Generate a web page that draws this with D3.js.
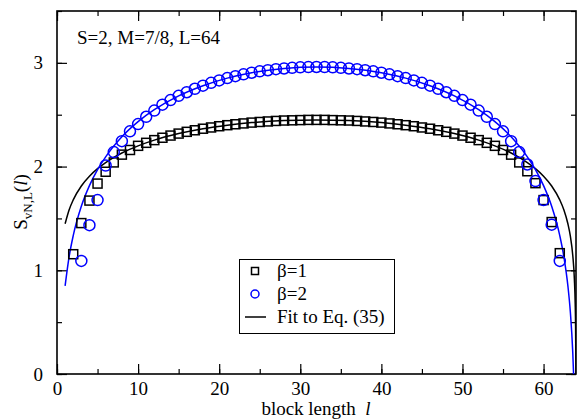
<!DOCTYPE html>
<html><head><meta charset="utf-8">
<script src="https://cdn.jsdelivr.net/npm/d3@7"></script>
<style>body{margin:0;background:#fff}svg{display:block}
svg text{font-family:"Liberation Serif";}
</style>
</head><body>
<svg id="chart" width="577" height="420"></svg>
<script>
const xTicks = [0,10,20,30,40,50,60];
const yTicks = [0,1,2,3];
const annotation = "S=2, M=7/8, L=64";
const legendLabels = ["\u03b2=1","\u03b2=2","Fit to Eq. (35)"];

const sqL = d3.range(2,63);
const sqV = [1.155,1.455,1.672,1.836,1.950,2.040,2.115,2.160,2.200,2.229,2.255,2.278,2.299,2.318,2.335,2.350,2.365,2.377,2.389,2.399,2.408,2.416,2.424,2.430,2.435,2.440,2.444,2.446,2.448,2.450,2.450,
 2.450,2.448,2.446,2.444,2.440,2.435,2.430,2.424,2.416,2.408,2.399,2.389,2.377,2.365,2.350,2.335,2.318,2.299,2.278,2.255,2.229,2.200,2.160,2.115,2.040,1.955,1.840,1.677,1.465,1.165];

const ciL = d3.range(3,63);
const ciV = [1.090,1.435,1.677,2.010,2.140,2.245,2.340,2.410,2.480,2.540,2.597,2.641,2.682,2.717,2.750,2.780,2.807,2.831,2.853,2.872,2.889,2.905,2.918,2.929,2.939,2.946,2.952,2.957,2.959,2.960,
 2.959,2.957,2.952,2.946,2.939,2.929,2.918,2.905,2.889,2.872,2.853,2.831,2.807,2.780,2.750,2.717,2.682,2.641,2.597,2.540,2.480,2.410,2.340,2.245,2.140,2.020,1.860,1.677,1.440,1.090];

const fitBlackL = [1,1.5,2,3,4,5,6,8,10,12,15,18,21,24,28,32,36,40,43,46,49,52,54,56,58,59,60,61,62,62.5,63,63.3,63.6,63.8,63.9,63.95,63.98,64];
const fitBlackV = [1.449,1.584,1.679,1.813,1.907,1.980,2.039,2.131,2.200,2.255,2.318,2.365,2.399,2.424,2.444,2.450,2.444,2.424,2.399,2.365,2.318,2.255,2.200,2.131,2.039,1.980,1.907,1.813,1.679,1.584,1.449,1.331,1.145,0.915,0.685,0.455,0.15,0];
const fitBlueL = [1,1.5,2,3,4,5,6,8,10,12,15,18,21,24,28,32,36,40,43,46,49,52,54,56,58,59,60,61,62,62.5,63,63.3,63.6,63.7];
const fitBlueV = [0.850,1.133,1.334,1.617,1.816,1.970,2.094,2.288,2.434,2.549,2.682,2.780,2.853,2.905,2.946,2.960,2.946,2.905,2.853,2.780,2.682,2.549,2.434,2.288,2.094,1.970,1.816,1.617,1.334,1.133,0.850,0.600,0.209,0];

const svg = d3.select("#chart");
const L = 57, R = 576, T = 11, B = 374;
const x = d3.scaleLinear().domain([0,64]).range([L,R]);
const y = d3.scaleLinear().domain([0,3.5]).range([B,T]);
const blue = "#0000ff";

svg.append("defs").append("clipPath").attr("id","clip").append("rect")
  .attr("x",L).attr("y",T).attr("width",R-L).attr("height",B-T);

const fs = 19;
function styleAxis(g){ g.attr("font-family",null); g.select(".domain").remove(); g.selectAll("line").attr("stroke","#000").attr("stroke-width",1.2); g.selectAll("text").attr("font-size",fs).attr("fill","#000"); }
const xMinor = d3.range(0,65,5);
const yMinor = d3.range(0,3.51,0.5);
svg.append("g").attr("transform",`translate(0,${B})`).call(d3.axisBottom(x).tickValues(xMinor).tickSize(-5).tickFormat("")).call(styleAxis);
svg.append("g").attr("transform",`translate(0,${B})`).call(d3.axisBottom(x).tickValues(xTicks).tickSize(-10).tickPadding(8).tickFormat(d3.format("d"))).call(styleAxis);
svg.append("g").attr("transform",`translate(0,${T})`).call(d3.axisTop(x).tickValues(xMinor).tickSize(-5).tickFormat("")).call(styleAxis);
svg.append("g").attr("transform",`translate(0,${T})`).call(d3.axisTop(x).tickValues(xTicks).tickSize(-10).tickFormat("")).call(styleAxis);
svg.append("g").attr("transform",`translate(${L},0)`).call(d3.axisLeft(y).tickValues(yMinor).tickSize(-5).tickFormat("")).call(styleAxis);
svg.append("g").attr("transform",`translate(${L},0)`).call(d3.axisLeft(y).tickValues(yTicks).tickSize(-10).tickPadding(14).tickFormat(d3.format("d"))).call(styleAxis);
svg.append("g").attr("transform",`translate(${R},0)`).call(d3.axisRight(y).tickValues(yMinor).tickSize(-5).tickFormat("")).call(styleAxis);
svg.append("g").attr("transform",`translate(${R},0)`).call(d3.axisRight(y).tickValues(yTicks).tickSize(-10).tickFormat("")).call(styleAxis);

svg.append("rect").attr("x",L).attr("y",T).attr("width",R-L).attr("height",B-T)
  .attr("fill","none").attr("stroke","#000").attr("stroke-width",1.6);

const plot = svg.append("g").attr("clip-path","url(#clip)");
const line = d3.line().x(d=>x(d[0])).y(d=>y(d[1])).curve(d3.curveMonotoneX);
plot.append("path").attr("d",line(fitBlackL.map((l,i)=>[l,fitBlackV[i]]))).attr("fill","none").attr("stroke","#000").attr("stroke-width",1.5);
plot.append("path").attr("d",line(fitBlueL.map((l,i)=>[l,fitBlueV[i]]))).attr("fill","none").attr("stroke",blue).attr("stroke-width",1.5);

const sq = 9;
svg.append("g").selectAll("rect").data(sqL.map((l,i)=>[l,sqV[i]])).join("rect")
  .attr("x",d=>x(d[0])-sq/2).attr("y",d=>y(d[1])-sq/2).attr("width",sq).attr("height",sq)
  .attr("fill","none").attr("stroke","#000").attr("stroke-width",1.5);
svg.append("g").selectAll("circle").data(ciL.map((l,i)=>[l,ciV[i]])).join("circle")
  .attr("cx",d=>x(d[0])).attr("cy",d=>y(d[1])).attr("r",5.5)
  .attr("fill","none").attr("stroke",blue).attr("stroke-width",1.5);

svg.append("text").attr("x",77).attr("y",44).attr("font-size",fs).text(annotation);

const xl = svg.append("text").attr("x",316).attr("y",415).attr("text-anchor","middle").attr("font-size",fs);
xl.append("tspan").text("block length\u00a0\u00a0");
xl.append("tspan").attr("font-style","italic").text("l");

const yl = svg.append("text").attr("transform","translate(27,202) rotate(-90)").attr("text-anchor","middle").attr("font-size",fs);
yl.append("tspan").text("S");
yl.append("tspan").attr("font-size",13).attr("dy",5).text("vN,L");
yl.append("tspan").attr("dy",-5).text("(");
yl.append("tspan").attr("font-style","italic").text("l");
yl.append("tspan").text(")");

const lg = svg.append("g");
lg.append("rect").attr("x",239.5).attr("y",259.5).attr("width",155).attr("height",74)
  .attr("fill","#fff").attr("stroke","#000").attr("stroke-width",1);
const rows = [271,294,317];
lg.append("rect").attr("x",255-3.5).attr("y",rows[0]-3.5).attr("width",7).attr("height",7).attr("fill","none").attr("stroke","#000").attr("stroke-width",1.5);
lg.append("circle").attr("cx",255).attr("cy",rows[1]).attr("r",4).attr("fill","none").attr("stroke",blue).attr("stroke-width",1.5);
lg.append("line").attr("x1",245).attr("x2",266).attr("y1",rows[2]).attr("y2",rows[2]).attr("stroke","#000").attr("stroke-width",1.5);
legendLabels.forEach((t,i)=>{
  lg.append("text").attr("x",277).attr("y",rows[i]+6).attr("font-size",fs).text(t);
});
</script>
</body></html>
